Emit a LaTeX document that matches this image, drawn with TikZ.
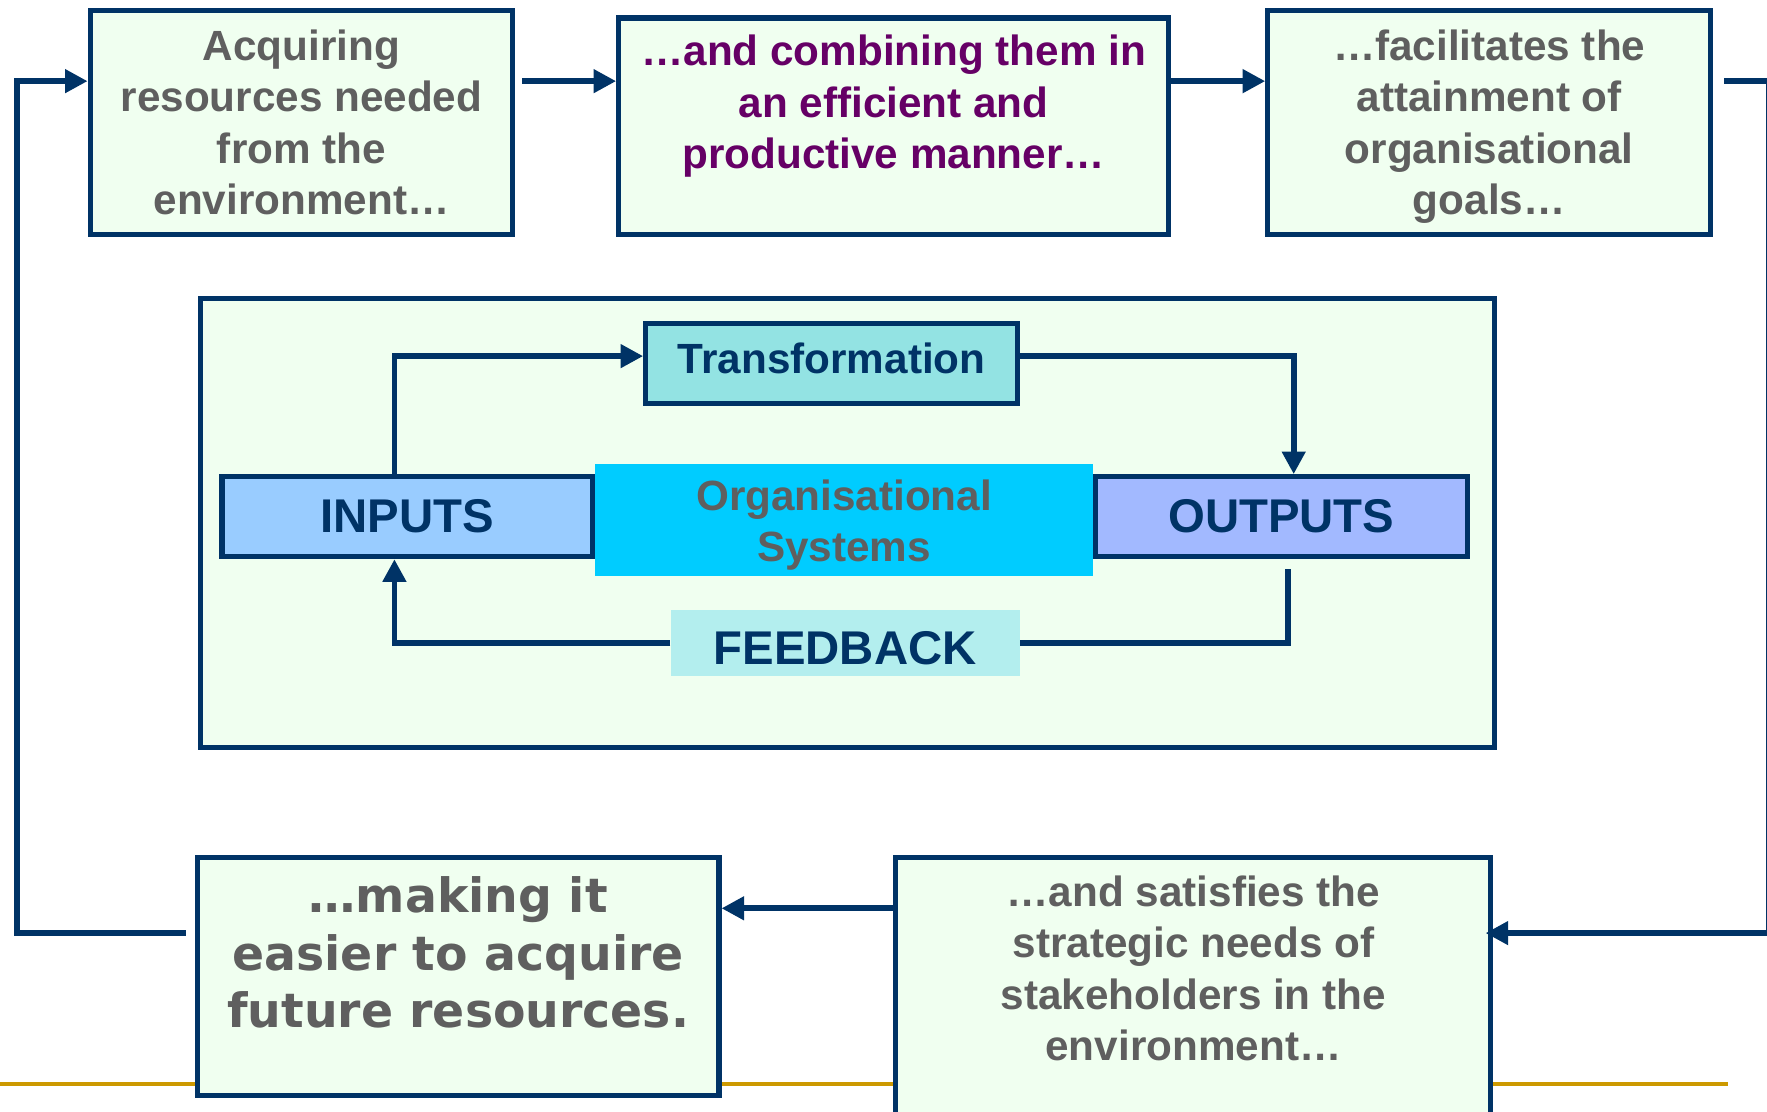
\documentclass[tikz,border=0pt]{standalone}
\usepackage{fontspec}
\setmainfont{Liberation Sans}
\newfontfamily\widesans{DejaVu Sans}
\usetikzlibrary{arrows.meta}

\definecolor{navy}{HTML}{003366}
\definecolor{mint}{HTML}{F0FFF0}
\definecolor{greytext}{HTML}{5F5F5F}
\definecolor{plum}{HTML}{660066}
\definecolor{transfill}{HTML}{93E3E3}
\definecolor{inputfill}{HTML}{99CCFF}
\definecolor{orgfill}{HTML}{00CCFF}
\definecolor{outputfill}{HTML}{A2B9FF}
\definecolor{feedfill}{HTML}{B3EEEE}
\definecolor{gold}{HTML}{CC9900}

\begin{document}
\begin{tikzpicture}[
  x=1pt, y=-1pt,
  box/.style={draw=navy, line width=4.5pt, fill=mint, inner sep=0pt},
  arr/.style={draw=navy, line width=5pt, -{Triangle[length=20pt,width=20pt]}},
  ln/.style={draw=navy, line width=5pt},
  gtxt/.style={text=greytext, inner sep=0pt, align=center,
               font=\fontsize{37.5}{45.7}\selectfont\bfseries},
  bigtxt/.style={text=navy, font=\fontsize{42}{50}\selectfont\bfseries},
]
\fill[white] (0,0) rectangle (1568,986);
\useasboundingbox (0,0) rectangle (1568,986);

% rule along the foot of the slide
\draw[gold, line width=4pt] (0,962) -- (1533,962);

% ---- outer cycle ----
\node[box, gtxt, minimum width=375pt, minimum height=199pt] (A) at (267.5,108.5)
  {Acquiring\\resources needed\\from the\\environment…};
\node[box, minimum width=488pt, minimum height=192pt] (B) at (793,112) {};
\node[gtxt, text=plum] (Bt) at (793,94.5)
  {…and combining them in\\an efficient and\\productive manner…};
\node[box, minimum width=393pt, minimum height=199pt] (C) at (1321.5,108.5) {};
\node[gtxt] (Ct) at (1321.5,112.5)
  {…facilitates the\\attainment of\\organisational\\goals…};
\node[box, minimum width=528pt, minimum height=239pt] (E) at (1059,880.5) {};
\node[gtxt] (Et) at (1059,859.5)
  {…and satisfies the\\strategic needs of\\stakeholders in the\\environment…};
\node[box, minimum width=463pt, minimum height=211pt] (D) at (406.5,866.5) {};
\node[gtxt, font=\widesans\bfseries\fontsize{42}{51}\selectfont] (Dt) at (406.5,845.5)
  {…making it\\easier to acquire\\future resources.};

\coordinate (lc) at (15,72);
\draw[arr] ([xshift=6pt,yshift=36.5pt]A.east) -- ([yshift=40pt]B.west);
\draw[arr] ([yshift=40pt]B.east) -- ([yshift=36.5pt]C.west);
\draw[arr] ([xshift=10pt,yshift=36.5pt]C.east) -- ++(39,0)
  |- ([xshift=-7pt,yshift=52.5pt]E.east);
\draw[arr] ([yshift=74.5pt]E.west) -- ([yshift=60.5pt]D.east);
\draw[arr] ([xshift=-8pt,yshift=38.5pt]D.west) -| (lc) -- ([yshift=36.5pt]A.west);

% ---- organisational system ----
\node[box, minimum width=1148pt, minimum height=398pt] (frame) at (752,464) {};
\node[fill=orgfill, inner sep=0pt, minimum width=442pt, minimum height=99pt]
  (S) at (749,461.5) {};
\node[gtxt, font=\fontsize{37.5}{46}\selectfont\bfseries] (St) at (749,466)
  {Organisational\\Systems};
\node[box, bigtxt, fill=inputfill, minimum width=329pt, minimum height=71pt]
  (I) at (361.5,458.5) {INPUTS};
\node[box, bigtxt, fill=outputfill, minimum width=330pt, minimum height=71pt]
  (O) at (1137,458.5) {OUTPUTS};
\node[box, fill=transfill, minimum width=330pt, minimum height=71pt, text=navy,
      font=\fontsize{37.5}{45}\selectfont\bfseries, text depth=10pt]
  (T) at (738,322.5) {Transformation};
\node[fill=feedfill, inner sep=0pt, minimum width=310pt, minimum height=59pt,
      bigtxt, text height=39pt] (F) at (750,570.5) {FEEDBACK};

\draw[arr] ([xshift=-11.5pt]I.north) |- ([yshift=6.5pt]T.west);
\draw[arr] ([yshift=6.5pt]T.east) -| ([xshift=11pt]O.north);
\draw[ln] ([xshift=6pt,yshift=-9pt]O.south) |- (F.east);
\draw[arr] (F.west) -| ([xshift=-11.5pt]I.south);
\end{tikzpicture}
\end{document}
